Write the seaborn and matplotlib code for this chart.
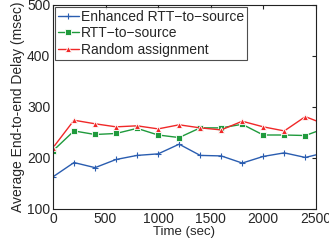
import numpy as np
import pandas as pd
import matplotlib
matplotlib.use("Agg")
import matplotlib.pyplot as plt
import seaborn as sns

time_sec = [0, 200, 400, 600, 800, 1000, 1200, 1400, 1600, 1800, 2000, 2200, 2400, 2600]
enhanced = [163, 191, 181, 197, 205, 208, 227, 205, 204, 190, 203, 210, 201, 211]
rtt_source = [214, 253, 246, 248, 258, 245, 240, 259, 259, 266, 245, 245, 244, 259]
random_assign = [220, 274, 267, 261, 263, 257, 265, 259, 255, 272, 261, 253, 281, 265]

series_names = ["Enhanced RTT\u2212to\u2212source", "RTT\u2212to\u2212source", "Random assignment"]

df = pd.DataFrame({
    "time": time_sec * 3,
    "delay": enhanced + rtt_source + random_assign,
    "method": [series_names[0]] * len(time_sec) + [series_names[1]] * len(time_sec)
              + [series_names[2]] * len(time_sec),
})

sns.set_style("white")
plt.rcParams["font.family"] = ["Liberation Sans", "DejaVu Sans"]

fig = plt.figure(figsize=(3.29, 2.47), dpi=100)
ax = fig.add_axes([0.161, 0.154, 0.799, 0.826])

blue, green, red = "#2a5db0", "#1f9a3c", "#f02828"
colors = {series_names[0]: blue, series_names[1]: green, series_names[2]: red}
markers = {series_names[0]: "o", series_names[1]: "s", series_names[2]: "^"}

sns.lineplot(data=df, x="time", y="delay", hue="method", style="method",
             palette=colors, markers=markers, dashes=False, ax=ax,
             linewidth=1.0, markersize=4, markeredgewidth=0.6)

leg = ax.legend(loc="upper left", fontsize=10, frameon=True, fancybox=False,
                borderpad=0.2, labelspacing=0.18, handlelength=1.5, handletextpad=0.15,
                borderaxespad=0.15)

# blue series uses a thin plus marker (matlab style)
for line in list(ax.lines) + list(leg.get_lines()):
    if matplotlib.colors.same_color(line.get_color(), blue):
        line.set_marker("+")
        line.set_markersize(4)
        line.set_markeredgewidth(0.8)
        line.set_markeredgecolor(blue)

ax.set_xlim(0, 2500)
ax.set_ylim(100, 500)
ax.set_xticks([0, 500, 1000, 1500, 2000, 2500])
ax.set_yticks([100, 200, 300, 400, 500])
ax.set_xlabel("Time (sec)", fontsize=9.5, labelpad=0)
ax.set_ylabel("Average End-to-end Delay (msec)", fontsize=10, labelpad=1)
ax.tick_params(direction="in", length=3, labelsize=10, top=True, right=True, pad=2,
               color="#222222")
for s in ax.spines.values():
    s.set_color("#222222")
    s.set_linewidth(0.8)

leg.get_frame().set_edgecolor("#222222")
leg.get_frame().set_linewidth(0.8)

fig.savefig("out.png", dpi=100)
